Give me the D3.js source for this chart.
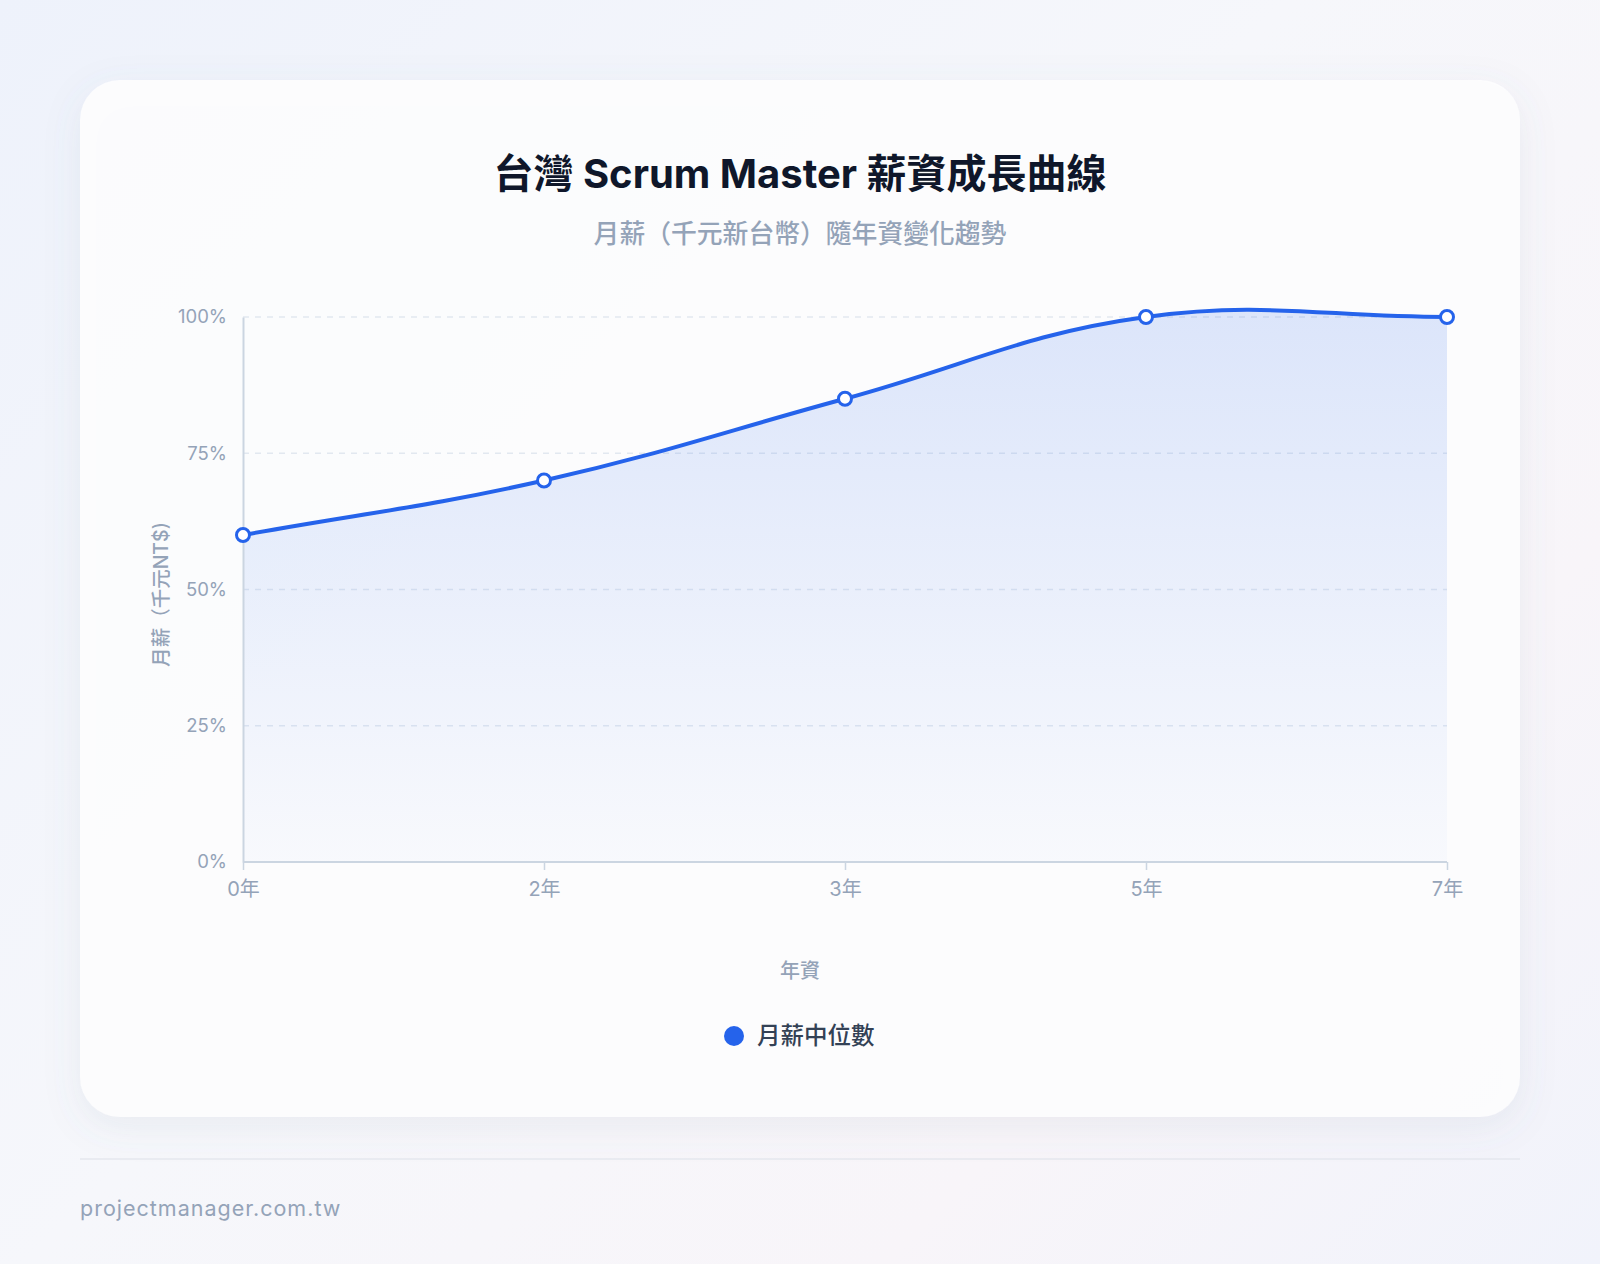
<!DOCTYPE html>
<html>
<head>
<meta charset="utf-8">
<script src="https://cdn.jsdelivr.net/npm/d3@7"></script>
<style>
  html, body { margin: 0; padding: 0; }
  body {
    width: 1600px; height: 1264px; overflow: hidden;
    background: linear-gradient(135deg, #eef2fb 0%, #f6f7fb 45%, #f8f5f9 75%, #f1f3fb 100%);
    font-family: Inter, "Noto Sans CJK TC", sans-serif;
  }
  #chart { position: absolute; left: 0; top: 0; }
</style>
</head>
<body>
<div id="chart"></div>
<script>
// data
const years = ["0年", "2年", "3年", "5年", "7年"];
const salaryShare = [0.60, 0.70, 0.85, 1.00, 1.00];
const yTicks = [0, 0.25, 0.5, 0.75, 1.0];
const seriesName = "月薪中位數";

const W = 1600, H = 1264;
const plot = { left: 243, right: 1447, top: 317, bottom: 862 };
const blue = "#2563eb";

const svg = d3.select("#chart").append("svg")
    .attr("width", W).attr("height", H);

const defs = svg.append("defs");
const sh = defs.append("filter").attr("id", "shadow")
    .attr("x", "-10%").attr("y", "-10%").attr("width", "120%").attr("height", "125%");
sh.append("feDropShadow").attr("dx", 0).attr("dy", 10).attr("stdDeviation", 18)
    .attr("flood-color", "#64748b").attr("flood-opacity", 0.10);

const grad = defs.append("linearGradient").attr("id", "areaFill")
    .attr("x1", 0).attr("y1", 0).attr("x2", 0).attr("y2", 1);
grad.append("stop").attr("offset", "0%").attr("stop-color", blue).attr("stop-opacity", 0.15);
grad.append("stop").attr("offset", "100%").attr("stop-color", blue).attr("stop-opacity", 0.02);

// card
svg.append("rect")
    .attr("x", 80).attr("y", 80).attr("width", 1440).attr("height", 1037)
    .attr("rx", 40).attr("fill", "#fdfdfe").attr("fill-opacity", 0.92)
    .attr("filter", "url(#shadow)");

// titles
svg.append("text").attr("x", 800).attr("y", 188)
    .attr("text-anchor", "middle").attr("font-size", 40).attr("font-weight", 700)
    .attr("fill", "#0f172a").text("台灣 Scrum Master 薪資成長曲線");
svg.append("text").attr("x", 800).attr("y", 243)
    .attr("text-anchor", "middle").attr("font-size", 25.8).attr("font-weight", 500)
    .attr("fill", "#94a3b8").text("月薪（千元新台幣）隨年資變化趨勢");

// scales
const x = d3.scalePoint().domain(years).range([plot.left, plot.right]);
const y = d3.scaleLinear().domain([0, 1]).range([plot.bottom, plot.top]);

// grid
svg.append("g").selectAll("line").data(yTicks.filter(d => d > 0)).join("line")
    .attr("x1", plot.left).attr("x2", plot.right)
    .attr("y1", d => y(d)).attr("y2", d => y(d))
    .attr("stroke", "#e2e8f0").attr("stroke-width", 1.5)
    .attr("stroke-dasharray", "6,6");

// chart.js style spline (tension 0.4)
const pts = years.map((c, i) => [x(c), y(salaryShare[i])]);
function splinePath(p, t, close) {
    const cps = p.map((cur, i) => {
        const prev = p[i - 1] || cur, next = p[i + 1] || cur;
        const d01 = Math.hypot(cur[0] - prev[0], cur[1] - prev[1]);
        const d12 = Math.hypot(next[0] - cur[0], next[1] - cur[1]);
        let s01 = d01 / (d01 + d12), s12 = d12 / (d01 + d12);
        if (isNaN(s01)) s01 = 0;
        if (isNaN(s12)) s12 = 0;
        const fa = t * s01, fb = t * s12;
        return {
            prev: [cur[0] - fa * (next[0] - prev[0]), cur[1] - fa * (next[1] - prev[1])],
            next: [cur[0] + fb * (next[0] - prev[0]), cur[1] + fb * (next[1] - prev[1])]
        };
    });
    const path = d3.path();
    path.moveTo(p[0][0], p[0][1]);
    for (let i = 1; i < p.length; i++) {
        const a = cps[i - 1].next, b = cps[i].prev;
        path.bezierCurveTo(a[0], a[1], b[0], b[1], p[i][0], p[i][1]);
    }
    if (close) {
        path.lineTo(p[p.length - 1][0], plot.bottom);
        path.lineTo(p[0][0], plot.bottom);
        path.closePath();
    }
    return path.toString();
}

svg.append("path").attr("d", splinePath(pts, 0.4, true))
    .attr("fill", "url(#areaFill)");

// axes
const xAxis = svg.append("g").attr("transform", `translate(0,${plot.bottom})`)
    .call(d3.axisBottom(x).tickSize(8).tickPadding(12));
xAxis.select(".domain").attr("stroke", "#cbd5e1").attr("stroke-width", 2)
    .attr("d", `M${plot.left},0H${plot.right}`);
xAxis.selectAll(".tick line").attr("stroke", "#cbd5e1").attr("stroke-width", 1.5);
xAxis.selectAll(".tick text").attr("font-size", 20).attr("fill", "#94a3b8")
    .attr("font-family", "Inter, 'Noto Sans CJK TC', sans-serif");

const yAxis = svg.append("g").attr("transform", `translate(${plot.left},0)`)
    .call(d3.axisLeft(y).tickValues(yTicks).tickFormat(d3.format(".0%")).tickSize(0).tickPadding(16));
yAxis.select(".domain").attr("stroke", "#cbd5e1").attr("stroke-width", 2);
yAxis.selectAll(".tick text").attr("font-size", 18.5).attr("fill", "#94a3b8")
    .attr("font-family", "Inter, 'Noto Sans CJK TC', sans-serif");

// line + points
svg.append("path").attr("d", splinePath(pts, 0.4, false))
    .attr("fill", "none").attr("stroke", blue).attr("stroke-width", 4)
    .attr("stroke-linecap", "round");
svg.append("g").selectAll("circle").data(pts).join("circle")
    .attr("cx", d => d[0]).attr("cy", d => d[1]).attr("r", 6.5)
    .attr("fill", "#fff").attr("stroke", blue).attr("stroke-width", 3);

// axis titles
svg.append("text").attr("x", 800).attr("y", 978)
    .attr("text-anchor", "middle").attr("font-size", 20).attr("font-weight", 500)
    .attr("fill", "#94a3b8").text("年資");
svg.append("text")
    .attr("transform", `translate(168,${(plot.top + plot.bottom) / 2 + 5}) rotate(-90)`)
    .attr("text-anchor", "middle").attr("font-size", 19.5).attr("font-weight", 500)
    .attr("fill", "#94a3b8").text("月薪（千元NT$)");

// legend
const lg = svg.append("g").attr("transform", "translate(734,1036)");
lg.append("circle").attr("r", 10).attr("fill", blue);
lg.append("text").attr("x", 23).attr("y", 8).attr("font-size", 23.5).attr("font-weight", 500)
    .attr("fill", "#334155").text(seriesName);

// footer
svg.append("line").attr("x1", 80).attr("x2", 1520).attr("y1", 1159).attr("y2", 1159)
    .attr("stroke", "#e5e7ee").attr("stroke-width", 1.5);
svg.append("text").attr("x", 80).attr("y", 1216)
    .attr("font-size", 21.5).attr("letter-spacing", 1).attr("fill", "#94a3b8")
    .text("projectmanager.com.tw");
</script>
</body>
</html>
